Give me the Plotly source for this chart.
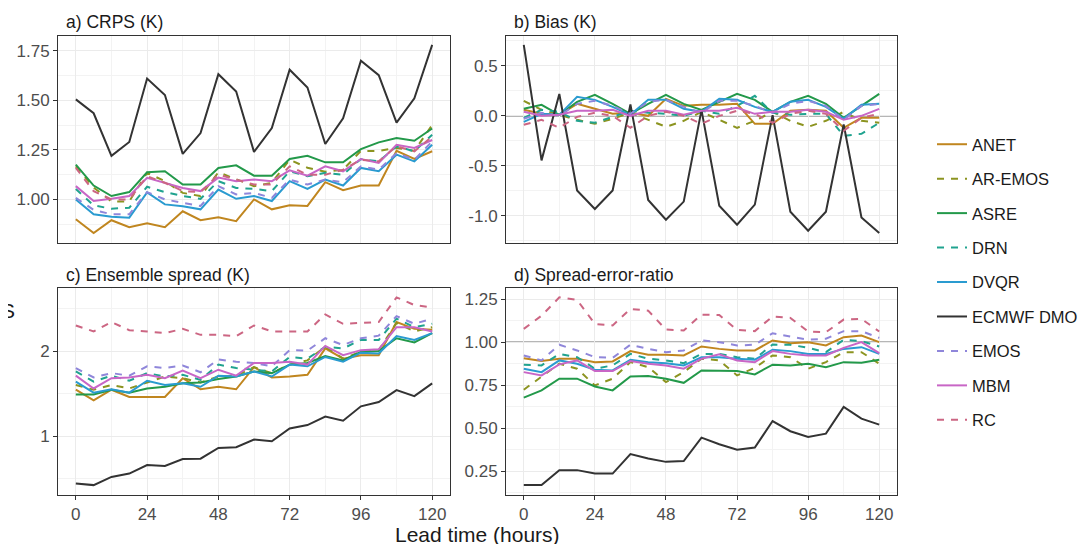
import plotly.graph_objects as go

W, H = 1088, 544
OFF = 8  # page body margin offset of the rendered figure

LEAD = [0, 6, 12, 18, 24, 30, 36, 42, 48, 54, 60, 66, 72, 78, 84, 90, 96, 102, 108, 114, 120]
METHODS = ["ANET", "AR-EMOS", "ASRE", "DRN", "DVQR", "ECMWF DMO", "EMOS", "MBM", "RC"]
COLORS = ["#C0861F", "#8C9420", "#23994A", "#20A38F", "#2A9BD0", "#333333", "#8F86DA", "#C866C6", "#CC6683"]
DASHED = [False, True, False, True, False, False, True, False, True]

# a) CRPS (K)
CRPS_ANET = [0.90, 0.83, 0.895, 0.86, 0.88, 0.86, 0.94, 0.895, 0.91, 0.89, 1.00, 0.95, 0.97, 0.967, 1.087, 1.047, 1.07, 1.07, 1.245, 1.204, 1.243]
CRPS_AR_EMOS = [1.167, 1.06, 0.99, 0.99, 1.134, 1.092, 1.033, 1.017, 1.137, 1.104, 1.067, 1.084, 1.20, 1.16, 1.14, 1.15, 1.245, 1.245, 1.26, 1.245, 1.376]
CRPS_ASRE = [1.176, 1.07, 1.017, 1.037, 1.137, 1.142, 1.075, 1.075, 1.159, 1.172, 1.12, 1.12, 1.204, 1.22, 1.187, 1.187, 1.254, 1.288, 1.31, 1.296, 1.358]
CRPS_DRN = [1.053, 0.97, 0.953, 0.958, 1.064, 1.037, 1.017, 1.003, 1.092, 1.058, 1.053, 1.042, 1.142, 1.117, 1.134, 1.125, 1.204, 1.192, 1.268, 1.243, 1.326]
CRPS_DVQR = [1.00, 0.925, 0.913, 0.908, 1.035, 0.975, 0.965, 0.95, 1.05, 1.003, 1.017, 0.992, 1.092, 1.053, 1.10, 1.07, 1.159, 1.142, 1.226, 1.192, 1.276]
CRPS_ECMWF = [1.505, 1.435, 1.22, 1.29, 1.61, 1.527, 1.23, 1.335, 1.632, 1.545, 1.24, 1.36, 1.655, 1.565, 1.28, 1.41, 1.70, 1.627, 1.388, 1.51, 1.78]
CRPS_EMOS = [1.008, 0.947, 0.925, 0.925, 1.037, 1.00, 0.983, 0.967, 1.067, 1.025, 1.033, 1.008, 1.10, 1.075, 1.10, 1.087, 1.167, 1.15, 1.234, 1.20, 1.293]
CRPS_MBM = [1.067, 0.992, 1.003, 1.017, 1.109, 1.082, 1.058, 1.042, 1.11, 1.092, 1.10, 1.092, 1.147, 1.12, 1.167, 1.142, 1.204, 1.184, 1.276, 1.26, 1.30]
CRPS_RC = [1.159, 1.042, 1.00, 1.00, 1.117, 1.084, 1.042, 1.037, 1.125, 1.10, 1.075, 1.075, 1.167, 1.125, 1.125, 1.15, 1.20, 1.192, 1.268, 1.243, 1.318]

# b) Bias (K)
BIAS_ANET = [0.06, 0.02, 0.01, 0.12, 0.07, 0.02, 0.03, 0.0, 0.17, 0.10, 0.11, 0.11, 0.12, -0.08, -0.08, 0.05, 0.06, 0.05, -0.12, -0.02, -0.02]
BIAS_AR_EMOS = [0.15, 0.06, 0.01, -0.04, -0.08, -0.03, 0.03, -0.04, -0.11, -0.05, 0.04, -0.04, -0.12, -0.05, 0.04, -0.05, -0.11, -0.05, 0.04, -0.05, -0.07]
BIAS_ASRE = [0.07, 0.11, 0.01, 0.14, 0.21, 0.12, 0.02, 0.12, 0.21, 0.12, 0.06, 0.14, 0.22, 0.16, 0.04, 0.14, 0.20, 0.12, -0.02, 0.10, 0.22]
BIAS_DRN = [-0.02, 0.06, 0.04, -0.05, -0.07, -0.01, 0.05, 0.03, 0.02, 0.0, 0.05, 0.02, 0.10, 0.20, 0.03, 0.01, 0.02, 0.02, -0.20, -0.18, -0.07]
BIAS_DVQR = [-0.06, 0.02, 0.01, 0.19, 0.16, 0.09, 0.01, 0.16, 0.16, 0.07, 0.04, 0.17, 0.16, 0.09, 0.04, 0.14, 0.16, 0.09, -0.03, 0.11, 0.12]
BIAS_ECMWF = [0.71, -0.446, 0.218, -0.748, -0.933, -0.748, 0.114, -0.842, -1.04, -0.859, 0.057, -0.90, -1.09, -0.889, 0.007, -0.96, -1.151, -0.96, -0.087, -1.017, -1.174]
BIAS_EMOS = [-0.03, 0.03, 0.0, 0.12, 0.15, 0.10, 0.02, 0.14, 0.16, 0.09, 0.03, 0.15, 0.15, 0.10, 0.03, 0.12, 0.15, 0.10, -0.04, 0.10, 0.12]
BIAS_MBM = [0.04, 0.0, 0.01, 0.05, 0.05, 0.06, 0.0, 0.05, 0.05, 0.01, 0.05, 0.05, 0.08, 0.02, 0.04, 0.04, 0.06, 0.04, -0.04, 0.0, 0.07]
BIAS_RC = [-0.09, -0.04, -0.12, -0.01, 0.03, 0.0, -0.12, 0.0, 0.04, 0.0, -0.08, 0.0, 0.05, 0.02, -0.07, 0.02, 0.05, 0.02, -0.15, -0.02, 0.02]

# c) Ensemble spread (K)
SPREAD_ANET = [1.545, 1.42, 1.545, 1.46, 1.46, 1.46, 1.68, 1.55, 1.58, 1.55, 1.81, 1.69, 1.70, 1.72, 2.03, 1.91, 1.95, 1.95, 2.34, 2.26, 2.25]
SPREAD_AR_EMOS = [1.60, 1.545, 1.60, 1.56, 1.63, 1.70, 1.68, 1.63, 1.70, 1.71, 1.81, 1.74, 1.84, 1.89, 2.05, 1.91, 1.99, 2.01, 2.33, 2.23, 2.28]
SPREAD_ASRE = [1.49, 1.49, 1.545, 1.51, 1.56, 1.58, 1.62, 1.63, 1.67, 1.70, 1.76, 1.74, 1.84, 1.86, 1.94, 1.89, 1.99, 2.00, 2.15, 2.10, 2.21]
SPREAD_DRN = [1.76, 1.64, 1.71, 1.65, 1.74, 1.70, 1.72, 1.66, 1.84, 1.80, 1.78, 1.76, 1.93, 1.91, 2.05, 2.03, 2.13, 2.13, 2.38, 2.28, 2.32]
SPREAD_DVQR = [1.64, 1.51, 1.55, 1.51, 1.65, 1.60, 1.62, 1.58, 1.71, 1.70, 1.76, 1.70, 1.84, 1.82, 1.93, 1.875, 1.98, 1.97, 2.175, 2.13, 2.21]
SPREAD_ECMWF = [0.444, 0.424, 0.52, 0.56, 0.66, 0.65, 0.73, 0.735, 0.86, 0.87, 0.96, 0.94, 1.09, 1.13, 1.23, 1.18, 1.35, 1.40, 1.54, 1.47, 1.62]
SPREAD_EMOS = [1.80, 1.69, 1.74, 1.71, 1.82, 1.80, 1.83, 1.75, 1.90, 1.875, 1.86, 1.82, 2.01, 2.005, 2.15, 2.07, 2.15, 2.18, 2.41, 2.32, 2.38]
SPREAD_MBM = [1.71, 1.56, 1.68, 1.69, 1.72, 1.68, 1.77, 1.68, 1.78, 1.71, 1.86, 1.86, 1.875, 1.84, 2.06, 1.95, 2.01, 2.02, 2.28, 2.28, 2.23]
SPREAD_RC = [2.30, 2.23, 2.34, 2.245, 2.23, 2.21, 2.26, 2.19, 2.19, 2.175, 2.30, 2.23, 2.23, 2.23, 2.43, 2.32, 2.33, 2.34, 2.63, 2.54, 2.51]

# d) Spread-error-ratio
SER_ANET = [0.907, 0.89, 0.904, 0.904, 0.884, 0.888, 0.948, 0.927, 0.927, 0.923, 0.975, 0.961, 0.952, 0.952, 1.01, 0.994, 1.0, 0.981, 1.029, 1.039, 1.0]
SER_AR_EMOS = [0.724, 0.797, 0.875, 0.846, 0.749, 0.788, 0.884, 0.855, 0.768, 0.826, 0.904, 0.894, 0.807, 0.851, 0.923, 0.913, 0.846, 0.884, 0.942, 0.942, 0.875]
SER_ASRE = [0.678, 0.72, 0.788, 0.788, 0.743, 0.72, 0.801, 0.803, 0.788, 0.764, 0.836, 0.832, 0.832, 0.813, 0.869, 0.865, 0.875, 0.855, 0.884, 0.88, 0.898]
SER_DRN = [0.869, 0.865, 0.932, 0.913, 0.846, 0.865, 0.932, 0.904, 0.894, 0.878, 0.932, 0.932, 0.913, 0.904, 0.986, 0.985, 0.967, 0.942, 1.014, 1.006, 0.975]
SER_DVQR = [0.846, 0.826, 0.894, 0.875, 0.84, 0.836, 0.898, 0.884, 0.878, 0.865, 0.913, 0.913, 0.904, 0.898, 0.956, 0.948, 0.932, 0.932, 0.961, 0.971, 0.932]
SER_ECMWF = [0.17, 0.17, 0.257, 0.257, 0.237, 0.237, 0.35, 0.324, 0.305, 0.31, 0.446, 0.407, 0.376, 0.388, 0.542, 0.483, 0.45, 0.469, 0.624, 0.556, 0.521]
SER_EMOS = [0.923, 0.894, 0.985, 0.952, 0.913, 0.909, 0.985, 0.961, 0.942, 0.952, 1.01, 1.0, 0.981, 0.985, 1.052, 1.035, 1.014, 1.02, 1.064, 1.064, 1.025]
SER_MBM = [0.826, 0.807, 0.871, 0.894, 0.832, 0.832, 0.89, 0.875, 0.865, 0.846, 0.904, 0.929, 0.894, 0.884, 0.948, 0.932, 0.923, 0.923, 0.967, 1.0, 0.936]
SER_RC = [1.077, 1.154, 1.26, 1.245, 1.106, 1.097, 1.193, 1.183, 1.073, 1.068, 1.16, 1.158, 1.071, 1.064, 1.149, 1.141, 1.062, 1.058, 1.131, 1.135, 1.062]

PANEL_TITLES = ["a) CRPS (K)", "b) Bias (K)", "c) Ensemble spread (K)", "d) Spread-error-ratio"]
Y_TICKS = [[1.00, 1.25, 1.50, 1.75], [-1.0, -0.5, 0.0, 0.5], [1, 2], [0.25, 0.50, 0.75, 1.00, 1.25]]
Y_TICKTEXT = [["1.00", "1.25", "1.50", "1.75"], ["-1.0", "-0.5", "0.0", "0.5"], ["1", "2"], ["0.25", "0.50", "0.75", "1.00", "1.25"]]
Y_MINOR = [(0.875, 0.125), (-1.25, 0.25), (0.5, 0.5), (0.125, 0.125)]
X_TICKS = [0, 24, 48, 72, 96, 120]
REF_LINES = [None, 0.0, None, 1.0]
X_TITLE = "Lead time (hours)"

PANELS = [
    [CRPS_ANET, CRPS_AR_EMOS, CRPS_ASRE, CRPS_DRN, CRPS_DVQR, CRPS_ECMWF, CRPS_EMOS, CRPS_MBM, CRPS_RC],
    [BIAS_ANET, BIAS_AR_EMOS, BIAS_ASRE, BIAS_DRN, BIAS_DVQR, BIAS_ECMWF, BIAS_EMOS, BIAS_MBM, BIAS_RC],
    [SPREAD_ANET, SPREAD_AR_EMOS, SPREAD_ASRE, SPREAD_DRN, SPREAD_DVQR, SPREAD_ECMWF, SPREAD_EMOS, SPREAD_MBM, SPREAD_RC],
    [SER_ANET, SER_AR_EMOS, SER_ASRE, SER_DRN, SER_DVQR, SER_ECMWF, SER_EMOS, SER_MBM, SER_RC],
]

# ---- layout geometry (screen pixels) ----
COL_X = [(58, 450), (506, 897)]
ROW_Y = [(35.5, 242.5), (288, 494.5)]

def px_x(x):
    return (x - OFF) / W

def px_y(y):
    return 1 - (y - OFF) / H

FONT = "Liberation Sans, Arial, Helvetica, sans-serif"
GRID = "#EBEBEB"
MINOR_GRID = "#F3F3F3"
BORDER = "#333333"
TICKCOL = "#4D4D4D"
TICK_SIZE = 17
TITLE_SIZE = 17.5

fig = go.Figure()
layout = dict(
    width=W, height=H,
    margin=dict(l=0, r=0, t=0, b=0),
    paper_bgcolor="white", plot_bgcolor="white",
    font=dict(family=FONT, color="#1A1A1A"),
    showlegend=True,
    annotations=[], shapes=[],
)

def expand(vals_list):
    lo = min(min(v) for v in vals_list)
    hi = max(max(v) for v in vals_list)
    pad = (hi - lo) * 0.05
    return [lo - pad, hi + pad]

xr = [LEAD[0] - (LEAD[-1] - LEAD[0]) * 0.05, LEAD[-1] + (LEAD[-1] - LEAD[0]) * 0.05]

for p in range(4):
    r, c = divmod(p, 2)
    idx = "" if p == 0 else str(p + 1)
    xa, ya = "x" + idx, "y" + idx
    bottom = r == 1
    layout["xaxis" + idx] = dict(
        domain=[px_x(COL_X[c][0]), px_x(COL_X[c][1])],
        anchor=ya, range=xr,
        tickmode="array", tickvals=X_TICKS, ticktext=[str(v) for v in X_TICKS],
        showticklabels=bottom, ticks="outside" if bottom else "",
        ticklen=4, tickwidth=1, tickcolor=BORDER,
        tickfont=dict(size=TICK_SIZE, color=TICKCOL, family=FONT),
        showgrid=True, gridcolor=GRID, gridwidth=1.3,
        minor=dict(tick0=0, dtick=12, showgrid=True, gridcolor=MINOR_GRID, gridwidth=0.8, ticks=""),
        showline=True, linecolor=BORDER, linewidth=1, mirror=True,
        zeroline=False, fixedrange=True,
    )
    layout["yaxis" + idx] = dict(
        domain=[px_y(ROW_Y[r][1]), px_y(ROW_Y[r][0])],
        anchor=xa, range=expand(PANELS[p]),
        tickmode="array", tickvals=Y_TICKS[p], ticktext=Y_TICKTEXT[p],
        ticks="outside", ticklen=4, tickwidth=1, tickcolor=BORDER,
        tickfont=dict(size=TICK_SIZE, color=TICKCOL, family=FONT),
        showgrid=True, gridcolor=GRID, gridwidth=1.3,
        minor=dict(tick0=Y_MINOR[p][0], dtick=Y_MINOR[p][1], showgrid=True,
                   gridcolor=MINOR_GRID, gridwidth=0.8, ticks=""),
        showline=True, linecolor=BORDER, linewidth=1, mirror=True,
        zeroline=False, fixedrange=True,
    )
    # panel title (strip text)
    layout["annotations"].append(dict(
        text=PANEL_TITLES[p], xref="paper", yref="paper",
        x=px_x(COL_X[c][0] + 6), y=px_y(ROW_Y[r][0] - 13.5),
        xanchor="left", yanchor="middle", showarrow=False,
        font=dict(size=TITLE_SIZE, color="#1A1A1A", family=FONT),
    ))
    # reference line
    if REF_LINES[p] is not None:
        layout["shapes"].append(dict(
            type="line", xref=xa + " domain", yref=ya, x0=0, x1=1,
            y0=REF_LINES[p], y1=REF_LINES[p],
            line=dict(color="#6E6E6E", width=1.2), layer="below",
        ))
    for m, name in enumerate(METHODS):
        fig.add_trace(go.Scatter(
            x=LEAD, y=PANELS[p][m], mode="lines", name=name,
            legendgroup=name, showlegend=(p == 0),
            xaxis=xa, yaxis=ya,
            line=dict(color=COLORS[m], width=2,
                      dash="7px,7px" if DASHED[m] else "solid"),
            hoverinfo="skip",
        ))

# x-axis title
layout["annotations"].append(dict(
    text=X_TITLE, xref="paper", yref="paper",
    x=px_x((COL_X[0][0] + COL_X[1][1]) / 2), y=px_y(534),
    xanchor="center", yanchor="middle", showarrow=False,
    font=dict(size=21, color="#1A1A1A", family=FONT),
))
# y title glyph at the far left edge (cut off in the original too)
layout["annotations"].append(dict(
    text="S", xref="paper", yref="paper",
    x=0, y=px_y(310), xanchor="center", yanchor="middle",
    showarrow=False, font=dict(size=21, color="#1A1A1A", family=FONT),
))

layout["legend"] = dict(
    x=px_x(932), y=px_y(127), xanchor="left", yanchor="top",
    bgcolor="rgba(0,0,0,0)", borderwidth=0,
    font=dict(size=16.5, color="#1A1A1A", family=FONT),
    tracegroupgap=10, traceorder="grouped",
)

fig.update_layout(**layout)
fig.write_html("out.html")
